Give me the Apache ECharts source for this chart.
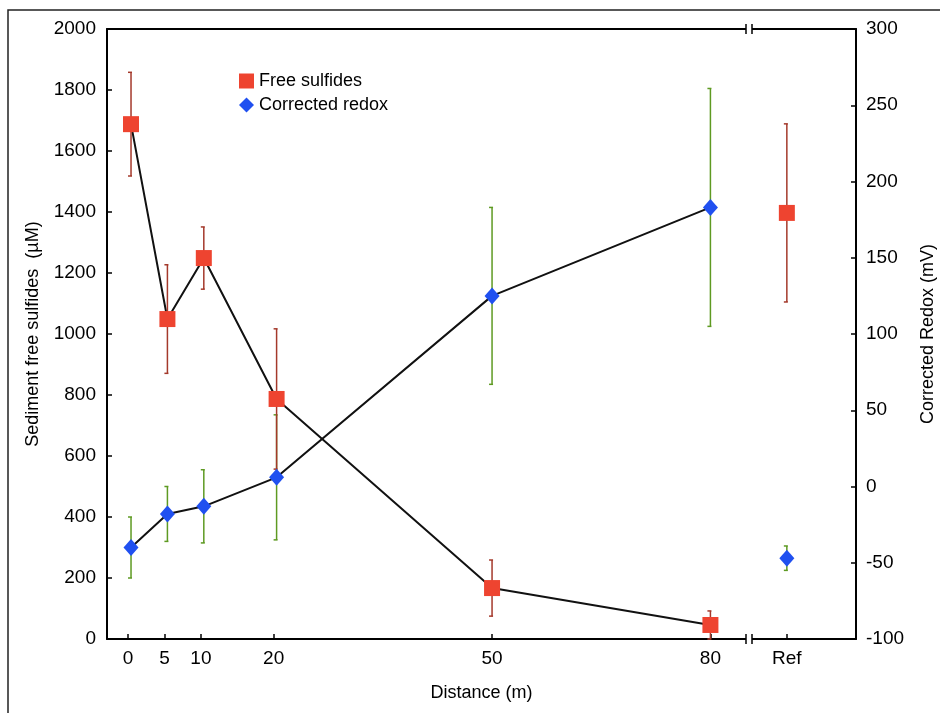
<!DOCTYPE html>
<html>
<head>
<meta charset="utf-8">
<script src="https://cdn.jsdelivr.net/npm/echarts@6/dist/echarts.min.js"></script>
<style>
  html, body { margin: 0; padding: 0; background: #fff; }
  #main { width: 940px; height: 713px; }
</style>
</head>
<body>
<div id="main"></div>
<script>
// distances (m) where samples were taken, Ref plotted after the axis break
var distance = [0.4, 5.4, 10.4, 20.4, 50, 80];
var refPos = 90.5;
var tickValues = [0, 5, 10, 20, 50, 80, 90.5];
var tickLabels = ['0', '5', '10', '20', '50', '80', 'Ref'];

// free sulfides (uM) +- error
var sulfides = [1688, 1049, 1249, 787, 167, 46];
var sulfidesErr = [170, 178, 102, 230, 92, 46];
var sulfidesRef = 1397, sulfidesRefErr = 292;

// corrected redox (mV) +- error
var redox = [-40, -18, -13, 6, 125, 183];
var redoxErr = [20, 18, 24, 41, 58, 78];
var redoxRef = -47, redoxRefErr = 8;

var breakAt = 85.3;

var myChart = echarts.init(document.getElementById('main'));
var font = 'Liberation Sans, Arial, sans-serif';

function pts(xs, ys) {
  return xs.map(function (x, i) { return [x, ys[i]]; });
}
function errData(xs, ys, es) {
  return xs.map(function (x, i) { return [x, ys[i] - es[i], ys[i] + es[i]]; });
}
function errBar(color) {
  return function (params, api) {
    var lo = api.coord([api.value(0), api.value(1)]);
    var hi = api.coord([api.value(0), api.value(2)]);
    var st = { stroke: color, lineWidth: 1.5 };
    return {
      type: 'group',
      children: [
        { type: 'line', shape: { x1: lo[0], y1: lo[1], x2: hi[0], y2: hi[1] }, style: st },
        { type: 'line', shape: { x1: lo[0] - 3, y1: lo[1], x2: lo[0] + 1, y2: lo[1] }, style: st },
        { type: 'line', shape: { x1: hi[0] - 3, y1: hi[1], x2: hi[0] + 1, y2: hi[1] }, style: st }
      ]
    };
  };
}

var sulfX = distance.concat([refPos]);
var sulfY = sulfides.concat([sulfidesRef]);
var sulfE = sulfidesErr.concat([sulfidesRefErr]);
var redX = distance.concat([refPos]);
var redY = redox.concat([redoxRef]);
var redE = redoxErr.concat([redoxRefErr]);

var option = {
  animation: false,
  textStyle: { fontFamily: font, color: '#000' },
  grid: { left: 107, right: 84, top: 29, bottom: 74, outerBoundsMode: 'none', containLabel: false },
  legend: {
    orient: 'vertical',
    left: 234, top: 67,
    itemWidth: 15, itemHeight: 15, itemGap: 6,
    textStyle: { fontSize: 18, fontFamily: font, color: '#000' },
    data: [
      { name: 'Free sulfides', icon: 'rect' },
      { name: 'Corrected redox', icon: 'diamond' }
    ]
  },
  xAxis: [{
    type: 'value',
    min: -2.9, max: 100,
    name: 'Distance (m)',
    nameLocation: 'middle',
    nameGap: 45,
    nameTextStyle: { fontSize: 18, fontFamily: font, color: '#000' },
    splitLine: { show: false },
    axisLine: { onZero: false, lineStyle: { color: '#000', width: 2 } },
    axisTick: { inside: true, length: 5, customValues: tickValues, lineStyle: { color: '#000', width: 1.5 } },
    axisLabel: {
      customValues: tickValues,
      fontSize: 19, color: '#000', margin: 10,
      formatter: function (v) {
        var i = tickValues.indexOf(v);
        return i >= 0 ? tickLabels[i] : '';
      }
    }
  }, {
    type: 'value', position: 'top',
    min: -2.9, max: 100,
    splitLine: { show: false },
    axisLine: { onZero: false, lineStyle: { color: '#000', width: 2 } },
    axisTick: { show: false },
    axisLabel: { show: false }
  }],
  yAxis: [{
    type: 'value',
    min: 0, max: 2000, interval: 200,
    name: 'Sediment free sulfides  (µM)',
    nameLocation: 'middle',
    nameGap: 65,
    nameRotate: 90,
    nameTextStyle: { fontSize: 18, fontFamily: font, color: '#000' },
    splitLine: { show: false },
    axisLine: { show: true, onZero: false, lineStyle: { color: '#000', width: 2 } },
    axisTick: { inside: true, length: 5, lineStyle: { color: '#000', width: 1.5 } },
    axisLabel: { fontSize: 19, color: '#000', margin: 11, formatter: function (v) { return String(v); } }
  }, {
    type: 'value',
    min: -100, max: 300, interval: 50,
    name: 'Corrected Redox (mV)',
    nameLocation: 'middle',
    nameGap: 63,
    nameRotate: 90,
    nameTextStyle: { fontSize: 18, fontFamily: font, color: '#000' },
    splitLine: { show: false },
    axisLine: { show: true, onZero: false, lineStyle: { color: '#000', width: 2 } },
    axisTick: { inside: true, length: 5, lineStyle: { color: '#000', width: 1.5 } },
    axisLabel: { fontSize: 19, color: '#000', margin: 10, formatter: function (v) { return String(v); } }
  }],
  series: [
    {
      name: 'sulfLine', type: 'line', yAxisIndex: 0,
      data: pts(distance, sulfides),
      showSymbol: false, symbol: 'none',
      lineStyle: { color: '#111', width: 2 }, z: 2
    },
    {
      name: 'redLine', type: 'line', yAxisIndex: 1,
      data: pts(distance, redox),
      showSymbol: false, symbol: 'none',
      lineStyle: { color: '#111', width: 2 }, z: 2
    },
    {
      name: 'redErr', type: 'custom', yAxisIndex: 1,
      data: errData(redX, redY, redE),
      renderItem: errBar('#5e9a22'),
      encode: { x: 0, y: [1, 2] }, z: 3
    },
    {
      name: 'sulfErr', type: 'custom', yAxisIndex: 0,
      data: errData(sulfX, sulfY, sulfE),
      renderItem: errBar('#a4392b'),
      encode: { x: 0, y: [1, 2] }, z: 3
    },
    {
      name: 'Free sulfides', type: 'scatter', yAxisIndex: 0,
      data: pts(sulfX, sulfY),
      symbol: 'rect', symbolSize: 16,
      itemStyle: { color: '#ee4430', opacity: 1 }, z: 5
    },
    {
      name: 'Corrected redox', type: 'scatter', yAxisIndex: 1,
      data: pts(redX, redY),
      symbol: 'diamond', symbolSize: [15, 17],
      itemStyle: { color: '#2050f0', opacity: 1 }, z: 5
    }
  ]
};

myChart.setOption(option);

// axis break marks and outer frame
var bx = myChart.convertToPixel({ xAxisIndex: 0 }, breakAt);
var yb = myChart.convertToPixel({ yAxisIndex: 0 }, 0);
var yt = myChart.convertToPixel({ yAxisIndex: 0 }, 2000);
function breakMark(y) {
  return [
    { type: 'rect', shape: { x: bx - 3, y: y - 3, width: 6, height: 6 }, style: { fill: '#fff' }, z: 10 },
    { type: 'line', shape: { x1: bx - 3, y1: y - 5, x2: bx - 3, y2: y + 5 }, style: { stroke: '#000', lineWidth: 1.5 }, z: 11 },
    { type: 'line', shape: { x1: bx + 3, y1: y - 5, x2: bx + 3, y2: y + 5 }, style: { stroke: '#000', lineWidth: 1.5 }, z: 11 }
  ];
}
myChart.setOption({
  graphic: [
    { type: 'rect', shape: { x: 8, y: 10, width: 960, height: 760 }, style: { fill: 'none', stroke: '#222', lineWidth: 1.5 }, z: 0 }
  ].concat(breakMark(yb)).concat(breakMark(yt))
});
</script>
</body>
</html>
